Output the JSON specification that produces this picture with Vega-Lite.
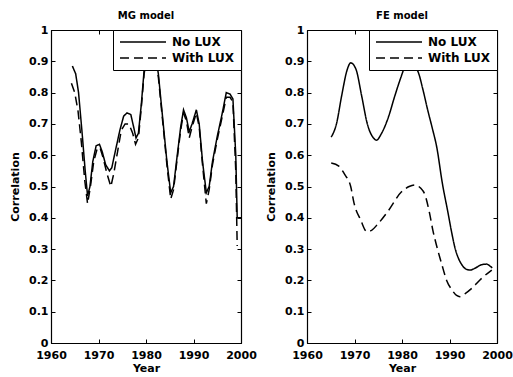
{
  "$schema": "https://vega.github.io/schema/vega-lite/v6.json",
  "padding": {"left": 9, "top": 10, "right": 0, "bottom": 1},
  "datasets": {
    "mg": [
      {"year": 1964.5, "value": 0.885, "series": "No LUX"},
      {"year": 1965.2, "value": 0.86, "series": "No LUX"},
      {"year": 1965.8, "value": 0.8, "series": "No LUX"},
      {"year": 1966.5, "value": 0.68, "series": "No LUX"},
      {"year": 1967.2, "value": 0.55, "series": "No LUX"},
      {"year": 1967.7, "value": 0.47, "series": "No LUX"},
      {"year": 1968.2, "value": 0.5, "series": "No LUX"},
      {"year": 1968.8, "value": 0.58, "series": "No LUX"},
      {"year": 1969.5, "value": 0.63, "series": "No LUX"},
      {"year": 1970.2, "value": 0.635, "series": "No LUX"},
      {"year": 1970.8, "value": 0.61, "series": "No LUX"},
      {"year": 1971.5, "value": 0.57, "series": "No LUX"},
      {"year": 1972.3, "value": 0.55, "series": "No LUX"},
      {"year": 1972.8, "value": 0.56, "series": "No LUX"},
      {"year": 1973.5, "value": 0.61, "series": "No LUX"},
      {"year": 1974.5, "value": 0.68, "series": "No LUX"},
      {"year": 1975.3, "value": 0.725, "series": "No LUX"},
      {"year": 1976.0, "value": 0.735, "series": "No LUX"},
      {"year": 1976.8, "value": 0.73, "series": "No LUX"},
      {"year": 1977.4, "value": 0.69, "series": "No LUX"},
      {"year": 1977.9, "value": 0.655, "series": "No LUX"},
      {"year": 1978.4, "value": 0.67, "series": "No LUX"},
      {"year": 1979.0, "value": 0.76, "series": "No LUX"},
      {"year": 1979.6, "value": 0.87, "series": "No LUX"},
      {"year": 1980.5, "value": 0.95, "series": "No LUX"},
      {"year": 1981.2, "value": 0.97, "series": "No LUX"},
      {"year": 1982.0, "value": 0.92, "series": "No LUX"},
      {"year": 1982.6, "value": 0.86, "series": "No LUX"},
      {"year": 1983.5, "value": 0.72, "series": "No LUX"},
      {"year": 1984.4, "value": 0.58, "series": "No LUX"},
      {"year": 1985.2, "value": 0.48, "series": "No LUX"},
      {"year": 1985.8, "value": 0.5, "series": "No LUX"},
      {"year": 1986.5, "value": 0.59, "series": "No LUX"},
      {"year": 1987.3, "value": 0.69, "series": "No LUX"},
      {"year": 1987.9, "value": 0.745, "series": "No LUX"},
      {"year": 1988.5, "value": 0.72, "series": "No LUX"},
      {"year": 1989.1, "value": 0.675, "series": "No LUX"},
      {"year": 1989.7, "value": 0.7, "series": "No LUX"},
      {"year": 1990.6, "value": 0.745, "series": "No LUX"},
      {"year": 1991.2, "value": 0.7, "series": "No LUX"},
      {"year": 1991.9, "value": 0.58, "series": "No LUX"},
      {"year": 1992.7, "value": 0.48, "series": "No LUX"},
      {"year": 1993.3, "value": 0.5, "series": "No LUX"},
      {"year": 1994.0, "value": 0.58, "series": "No LUX"},
      {"year": 1995.0, "value": 0.66, "series": "No LUX"},
      {"year": 1996.0, "value": 0.73, "series": "No LUX"},
      {"year": 1996.9, "value": 0.8, "series": "No LUX"},
      {"year": 1997.7, "value": 0.795, "series": "No LUX"},
      {"year": 1998.3, "value": 0.78, "series": "No LUX"},
      {"year": 1998.9, "value": 0.6, "series": "No LUX"},
      {"year": 1999.2, "value": 0.4, "series": "No LUX"},
      {"year": 2000.0, "value": 0.4, "series": "No LUX"},
      {"year": 1964.3, "value": 0.83, "series": "With LUX"},
      {"year": 1965.0, "value": 0.8, "series": "With LUX"},
      {"year": 1965.7, "value": 0.74, "series": "With LUX"},
      {"year": 1966.4, "value": 0.64, "series": "With LUX"},
      {"year": 1967.1, "value": 0.52, "series": "With LUX"},
      {"year": 1967.7, "value": 0.445, "series": "With LUX"},
      {"year": 1968.3, "value": 0.5, "series": "With LUX"},
      {"year": 1969.0, "value": 0.58, "series": "With LUX"},
      {"year": 1969.7, "value": 0.62, "series": "With LUX"},
      {"year": 1970.3, "value": 0.625, "series": "With LUX"},
      {"year": 1971.0, "value": 0.59, "series": "With LUX"},
      {"year": 1971.8, "value": 0.54, "series": "With LUX"},
      {"year": 1972.6, "value": 0.5, "series": "With LUX"},
      {"year": 1973.2, "value": 0.54, "series": "With LUX"},
      {"year": 1974.0, "value": 0.61, "series": "With LUX"},
      {"year": 1974.8, "value": 0.68, "series": "With LUX"},
      {"year": 1975.6, "value": 0.7, "series": "With LUX"},
      {"year": 1976.4, "value": 0.7, "series": "With LUX"},
      {"year": 1977.2, "value": 0.67, "series": "With LUX"},
      {"year": 1977.8, "value": 0.635, "series": "With LUX"},
      {"year": 1978.4, "value": 0.655, "series": "With LUX"},
      {"year": 1979.0, "value": 0.75, "series": "With LUX"},
      {"year": 1979.6, "value": 0.86, "series": "With LUX"},
      {"year": 1980.5, "value": 0.94, "series": "With LUX"},
      {"year": 1981.2, "value": 0.96, "series": "With LUX"},
      {"year": 1982.0, "value": 0.91, "series": "With LUX"},
      {"year": 1982.6, "value": 0.85, "series": "With LUX"},
      {"year": 1983.5, "value": 0.71, "series": "With LUX"},
      {"year": 1984.4, "value": 0.57, "series": "With LUX"},
      {"year": 1985.2, "value": 0.46, "series": "With LUX"},
      {"year": 1985.8, "value": 0.49, "series": "With LUX"},
      {"year": 1986.5, "value": 0.58, "series": "With LUX"},
      {"year": 1987.3, "value": 0.68, "series": "With LUX"},
      {"year": 1987.9, "value": 0.735, "series": "With LUX"},
      {"year": 1988.5, "value": 0.71, "series": "With LUX"},
      {"year": 1989.1, "value": 0.655, "series": "With LUX"},
      {"year": 1989.7, "value": 0.69, "series": "With LUX"},
      {"year": 1990.6, "value": 0.735, "series": "With LUX"},
      {"year": 1991.2, "value": 0.69, "series": "With LUX"},
      {"year": 1991.9, "value": 0.57, "series": "With LUX"},
      {"year": 1992.7, "value": 0.445, "series": "With LUX"},
      {"year": 1993.3, "value": 0.49, "series": "With LUX"},
      {"year": 1994.0, "value": 0.57, "series": "With LUX"},
      {"year": 1995.0, "value": 0.65, "series": "With LUX"},
      {"year": 1996.0, "value": 0.72, "series": "With LUX"},
      {"year": 1996.9, "value": 0.785, "series": "With LUX"},
      {"year": 1997.7, "value": 0.785, "series": "With LUX"},
      {"year": 1998.3, "value": 0.77, "series": "With LUX"},
      {"year": 1998.9, "value": 0.55, "series": "With LUX"},
      {"year": 1999.2, "value": 0.31, "series": "With LUX"}
    ],
    "fe": [
      {"year": 1965.1, "value": 0.658, "series": "No LUX"},
      {"year": 1966.2, "value": 0.7, "series": "No LUX"},
      {"year": 1967.3, "value": 0.79, "series": "No LUX"},
      {"year": 1968.4, "value": 0.87, "series": "No LUX"},
      {"year": 1969.2, "value": 0.895, "series": "No LUX"},
      {"year": 1970.3, "value": 0.875, "series": "No LUX"},
      {"year": 1971.5, "value": 0.79, "series": "No LUX"},
      {"year": 1972.7, "value": 0.7, "series": "No LUX"},
      {"year": 1974.0, "value": 0.655, "series": "No LUX"},
      {"year": 1974.6, "value": 0.648, "series": "No LUX"},
      {"year": 1975.7, "value": 0.67, "series": "No LUX"},
      {"year": 1977.1, "value": 0.72, "series": "No LUX"},
      {"year": 1978.5, "value": 0.79, "series": "No LUX"},
      {"year": 1979.8, "value": 0.85, "series": "No LUX"},
      {"year": 1980.8, "value": 0.89, "series": "No LUX"},
      {"year": 1981.6, "value": 0.9, "series": "No LUX"},
      {"year": 1982.5, "value": 0.885, "series": "No LUX"},
      {"year": 1983.4, "value": 0.866, "series": "No LUX"},
      {"year": 1984.4, "value": 0.81, "series": "No LUX"},
      {"year": 1985.4, "value": 0.745, "series": "No LUX"},
      {"year": 1986.4, "value": 0.685, "series": "No LUX"},
      {"year": 1987.3, "value": 0.627, "series": "No LUX"},
      {"year": 1988.5, "value": 0.51, "series": "No LUX"},
      {"year": 1989.7, "value": 0.415, "series": "No LUX"},
      {"year": 1990.5, "value": 0.35, "series": "No LUX"},
      {"year": 1991.1, "value": 0.307, "series": "No LUX"},
      {"year": 1991.9, "value": 0.27, "series": "No LUX"},
      {"year": 1992.6, "value": 0.25, "series": "No LUX"},
      {"year": 1993.4, "value": 0.237, "series": "No LUX"},
      {"year": 1994.3, "value": 0.233, "series": "No LUX"},
      {"year": 1995.5, "value": 0.24, "series": "No LUX"},
      {"year": 1996.7, "value": 0.25, "series": "No LUX"},
      {"year": 1997.8, "value": 0.252, "series": "No LUX"},
      {"year": 1998.6, "value": 0.245, "series": "No LUX"},
      {"year": 1999.0, "value": 0.24, "series": "No LUX"},
      {"year": 1965.1, "value": 0.575, "series": "With LUX"},
      {"year": 1966.7, "value": 0.565, "series": "With LUX"},
      {"year": 1968.0, "value": 0.537, "series": "With LUX"},
      {"year": 1969.2, "value": 0.5, "series": "With LUX"},
      {"year": 1969.9, "value": 0.447, "series": "With LUX"},
      {"year": 1971.3, "value": 0.393, "series": "With LUX"},
      {"year": 1972.6, "value": 0.356, "series": "With LUX"},
      {"year": 1973.6, "value": 0.36, "series": "With LUX"},
      {"year": 1974.9, "value": 0.38, "series": "With LUX"},
      {"year": 1977.0, "value": 0.42, "series": "With LUX"},
      {"year": 1979.9, "value": 0.483, "series": "With LUX"},
      {"year": 1981.5, "value": 0.5, "series": "With LUX"},
      {"year": 1982.7, "value": 0.505, "series": "With LUX"},
      {"year": 1983.9, "value": 0.495, "series": "With LUX"},
      {"year": 1984.8, "value": 0.475, "series": "With LUX"},
      {"year": 1985.8, "value": 0.415, "series": "With LUX"},
      {"year": 1986.5, "value": 0.36, "series": "With LUX"},
      {"year": 1987.3, "value": 0.31, "series": "With LUX"},
      {"year": 1988.4, "value": 0.25, "series": "With LUX"},
      {"year": 1989.4, "value": 0.2, "series": "With LUX"},
      {"year": 1990.5, "value": 0.17, "series": "With LUX"},
      {"year": 1991.5, "value": 0.152, "series": "With LUX"},
      {"year": 1992.2, "value": 0.148, "series": "With LUX"},
      {"year": 1993.3, "value": 0.158, "series": "With LUX"},
      {"year": 1994.7, "value": 0.175, "series": "With LUX"},
      {"year": 1996.8, "value": 0.207, "series": "With LUX"},
      {"year": 1998.9, "value": 0.233, "series": "With LUX"}
    ]
  },
  "hconcat": [
    {
      "width": 190,
      "height": 313,
      "title": "MG model",
      "data": {"name": "mg"},
      "layer": [
        {
          "mark": {"type": "line", "color": "black", "strokeWidth": 1.5, "interpolate": "linear"},
          "encoding": {
            "x": {"field": "year", "type": "quantitative", "scale": {"domain": [1960, 2000], "nice": false, "zero": false},
                  "axis": {"orient": "bottom", "title": "Year", "values": [1960, 1970, 1980, 1990, 2000], "format": "d", "labelPadding": 10, "titlePadding": 2}},
            "y": {"field": "value", "type": "quantitative", "scale": {"domain": [0, 1], "nice": false},
                  "axis": {"orient": "left", "title": "Correlation", "values": [0, 0.1, 0.2, 0.3, 0.4, 0.5, 0.6, 0.7, 0.8, 0.9, 1], "format": "~g", "labelPadding": 7, "titlePadding": 8}},
            "strokeDash": {"field": "series", "type": "nominal",
                           "scale": {"domain": ["No LUX", "With LUX"], "range": [[1, 0], [9, 5]]},
                           "legend": {"title": null, "orient": "top-right", "offset": 0}}
          }
        },
        {
          "mark": {"type": "point", "opacity": 0},
          "encoding": {
            "x": {"field": "year", "type": "quantitative", "axis": {"orient": "top", "title": null, "labels": false, "values": [1960, 1970, 1980, 1990, 2000]}},
            "y": {"field": "value", "type": "quantitative", "axis": {"orient": "right", "title": null, "labels": false, "values": [0, 0.1, 0.2, 0.3, 0.4, 0.5, 0.6, 0.7, 0.8, 0.9, 1]}}
          }
        }
      ],
      "resolve": {"axis": {"x": "independent", "y": "independent"}}
    },
    {
      "width": 190,
      "height": 313,
      "title": "FE model",
      "data": {"name": "fe"},
      "layer": [
        {
          "mark": {"type": "line", "color": "black", "strokeWidth": 1.5, "interpolate": "monotone"},
          "encoding": {
            "x": {"field": "year", "type": "quantitative", "scale": {"domain": [1960, 2000], "nice": false, "zero": false},
                  "axis": {"orient": "bottom", "title": "Year", "values": [1960, 1970, 1980, 1990, 2000], "format": "d", "labelPadding": 10, "titlePadding": 2}},
            "y": {"field": "value", "type": "quantitative", "scale": {"domain": [0, 1], "nice": false},
                  "axis": {"orient": "left", "title": "Correlation", "values": [0, 0.1, 0.2, 0.3, 0.4, 0.5, 0.6, 0.7, 0.8, 0.9, 1], "format": "~g", "labelPadding": 7, "titlePadding": 8}},
            "strokeDash": {"field": "series", "type": "nominal",
                           "scale": {"domain": ["No LUX", "With LUX"], "range": [[1, 0], [9, 5]]},
                           "legend": {"title": null, "orient": "top-right", "offset": 0}}
          }
        },
        {
          "mark": {"type": "point", "opacity": 0},
          "encoding": {
            "x": {"field": "year", "type": "quantitative", "axis": {"orient": "top", "title": null, "labels": false, "values": [1960, 1970, 1980, 1990, 2000]}},
            "y": {"field": "value", "type": "quantitative", "axis": {"orient": "right", "title": null, "labels": false, "values": [0, 0.1, 0.2, 0.3, 0.4, 0.5, 0.6, 0.7, 0.8, 0.9, 1]}}
          }
        }
      ],
      "resolve": {"axis": {"x": "independent", "y": "independent"}}
    }
  ],
  "spacing": 8,
  "resolve": {"scale": {"strokeDash": "independent"}, "legend": {"strokeDash": "independent"}},
  "config": {
    "font": "DejaVu Sans",
    "background": "white",
    "view": {"stroke": "black", "strokeWidth": 1},
    "title": {"fontSize": 10, "fontWeight": "bold", "color": "black", "offset": 3, "anchor": "middle"},
    "axis": {
      "grid": false,
      "minExtent": 0,
      "domainColor": "black",
      "domainWidth": 1.2,
      "tickColor": "black",
      "tickSize": -4,
      "tickWidth": 1,
      "labelFontSize": 11,
      "labelFontWeight": "bold",
      "labelColor": "black",
      "labelOverlap": false,
      "labelFlush": false,
      "titleFontSize": 11,
      "titleFontWeight": "bold",
      "titleColor": "black"
    },
    "legend": {
      "strokeColor": "black",
      "fillColor": "white",
      "padding": 6,
      "cornerRadius": 0,
      "symbolType": "stroke",
      "symbolSize": 2116,
      "symbolStrokeWidth": 1.5,
      "symbolStrokeColor": "black",
      "symbolOffset": 0,
      "clipHeight": 12,
      "rowPadding": 4,
      "labelOffset": 5,
      "labelFontSize": 12,
      "labelFontWeight": "bold",
      "labelColor": "black"
    }
  }
}
